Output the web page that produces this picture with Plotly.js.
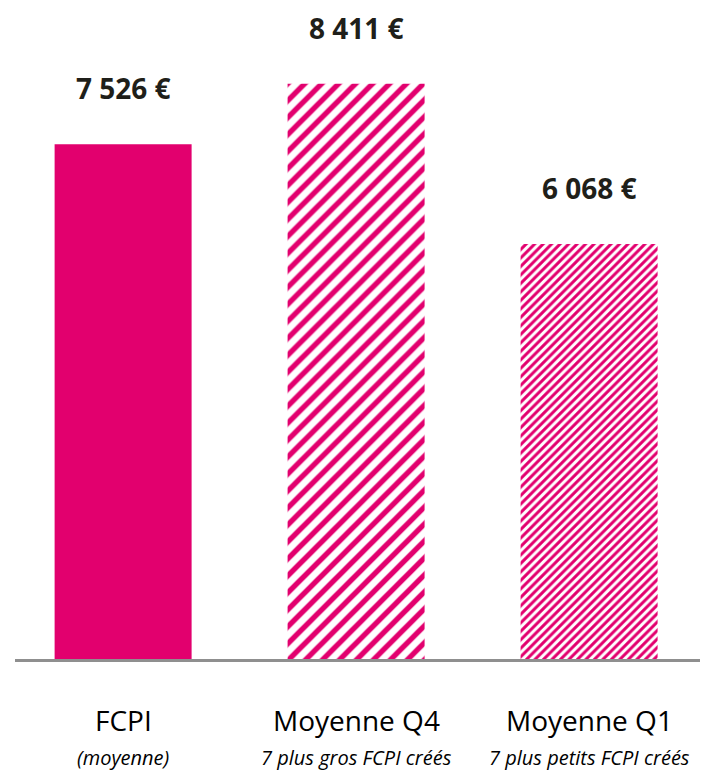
<!DOCTYPE html>
<html>
<head>
<meta charset="utf-8">
<script src="https://cdn.plot.ly/plotly-3.0.1.min.js"></script>
<style>html,body{margin:0;padding:0;background:#fff;}#chart{width:708px;height:770px;}</style>
</head>
<body>
<div id="chart"></div>
<script>
// Data
const categories = ["FCPI", "Moyenne Q4", "Moyenne Q1"];
const subtitles = ["(moyenne)", "7 plus gros FCPI créés", "7 plus petits FCPI créés"];
const values = [7526, 8411, 6068];

const magenta = "#E2006E";

function fmt(v) {
  return String(v).replace(/\B(?=(\d{3})+(?!\d))/g, " ") + " €";
}

const trace = {
  type: "bar",
  x: categories,
  y: values,
  marker: {
    color: [magenta, magenta, magenta],
    line: { width: 0 },
    pattern: {
      shape: ["", "/", "/"],
      size: [10, 12, 6],
      solidity: [1, 0.45, 0.5],
      fgcolor: [magenta, magenta, magenta],
      bgcolor: ["white", "white", "white"],
      fillmode: "replace"
    }
  },
  hoverinfo: "skip"
};

const annotations = [];
categories.forEach((c, i) => {
  annotations.push({
    x: c, y: values[i], xref: "x", yref: "y",
    text: "<b>" + fmt(values[i]) + "</b>",
    showarrow: false, yanchor: "middle", yshift: 56,
    font: { family: "Open Sans", size: 28, color: "#1f1f1a" }
  });
  annotations.push({
    x: c, y: 0, xref: "x", yref: "paper",
    text: c,
    showarrow: false, yanchor: "middle", yshift: -61,
    font: { family: "Open Sans", size: 28, color: "#000" }
  });
  annotations.push({
    x: c, y: 0, xref: "x", yref: "paper",
    text: "<i>" + subtitles[i] + "</i>",
    showarrow: false, yanchor: "middle", yshift: -98,
    font: { family: "Open Sans", size: 20, color: "#000" }
  });
});

const layout = {
  width: 708, height: 770,
  margin: { l: 15, r: 8, t: 0, b: 111 },
  paper_bgcolor: "white", plot_bgcolor: "white",
  showlegend: false,
  bargap: 0.412,
  xaxis: {
    range: [-0.464, 2.476],
    showticklabels: false, ticks: "",
    showgrid: false, zeroline: false,
    showline: true, linecolor: "#8f8f8f", linewidth: 3
  },
  yaxis: {
    range: [0, 9635],
    visible: false, showgrid: false, zeroline: false
  },
  annotations: annotations
};

Plotly.newPlot("chart", [trace], layout, { displayModeBar: false, staticPlot: true });
</script>
</body>
</html>
